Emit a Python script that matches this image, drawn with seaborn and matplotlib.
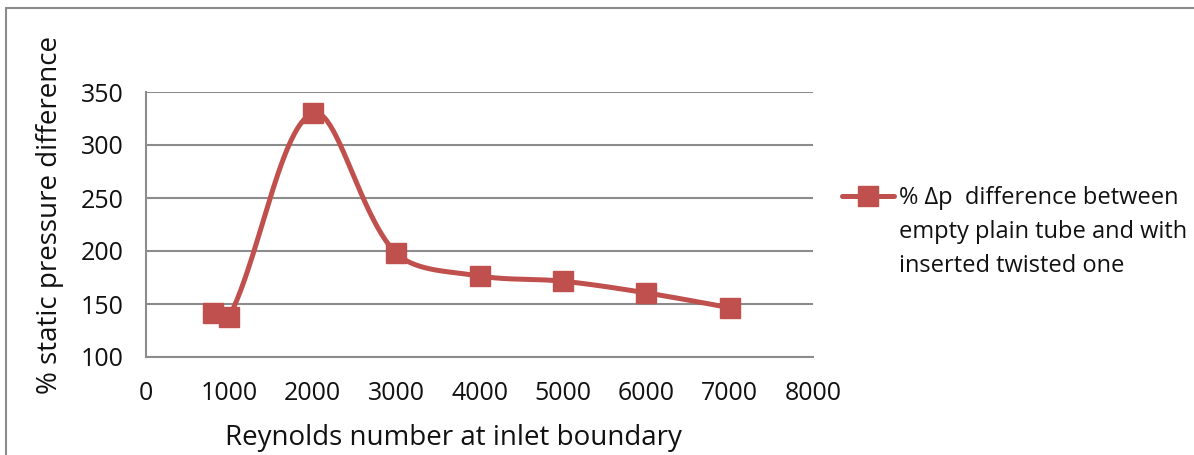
import numpy as np
import pandas as pd
import matplotlib
matplotlib.use("Agg")
import matplotlib.pyplot as plt
import seaborn as sns
from matplotlib.lines import Line2D

reynolds = [800, 1000, 2000, 3000, 4000, 5000, 6000, 7000]
dp_percent = [141.5, 138, 330, 198, 176.5, 171.5, 160.5, 146.5]
x_ticks = [0, 1000, 2000, 3000, 4000, 5000, 6000, 7000, 8000]
y_ticks = [100, 150, 200, 250, 300, 350]
series_label_lines = ["% \u0394p  difference between", "empty plain tube and with", "inserted twisted one"]
x_label = "Reynolds number at inlet boundary"
y_label = "% static pressure difference"

RED = "#C0504D"
GRID = "#8C8C8C"
TXT = "#111111"

sns.set_style("white")
plt.rcParams["font.family"] = ["Open Sans", "DejaVu Sans"]

fig = plt.figure(figsize=(11.94, 4.55), dpi=100)
ax = fig.add_axes([146 / 1194, 1 - 357 / 455, (813 - 146) / 1194, (357 - 92) / 455])
ax.set_xlim(0, 8000)
ax.set_ylim(100, 350)

# Smoothed line (Bezier with length-weighted tangents, like a spreadsheet smoothed line)
df = pd.DataFrame({"x": reynolds, "y": dp_percent})
P = df[["x", "y"]].to_numpy(dtype=float)
scale = np.array([667 / 8000, 265 / 250])  # data -> approx pixel scaling for distances
n = len(P)
tang = np.zeros_like(P)
for i in range(n):
    a = P[max(i - 1, 0)]
    b = P[min(i + 1, n - 1)]
    tang[i] = b - a
dist = np.linalg.norm((P[1:] - P[:-1]) * scale, axis=1)
curve = []
for i in range(n - 1):
    p1, p2 = P[i], P[i + 1]
    d12 = dist[i]
    d01 = dist[i - 1] if i > 0 else d12
    d23 = dist[i + 1] if i + 1 < n - 1 else d12
    k1 = d12 / (d01 + d12) / 3.0 if i > 0 else 0.0
    k2 = d12 / (d12 + d23) / 3.0 if i + 1 < n - 1 else 0.0
    c1 = p1 + tang[i] * k1
    c2 = p2 - tang[i + 1] * k2
    t = np.linspace(0, 1, 50)[:, None]
    seg = ((1 - t) ** 3) * p1 + 3 * ((1 - t) ** 2) * t * c1 + 3 * (1 - t) * t ** 2 * c2 + t ** 3 * p2
    curve.append(seg if i == 0 else seg[1:])
curve = np.vstack(curve)
smooth = pd.DataFrame({"x": curve[:, 0], "y": curve[:, 1]})

sns.lineplot(data=smooth, x="x", y="y", ax=ax, color=RED, lw=3.6, sort=False,
             estimator=None, zorder=3, solid_capstyle="round")
ax.plot(df["x"], df["y"], ls="none", marker="s", ms=14, color=RED, mec=RED, zorder=4)

# legend
handle = Line2D([], [], color=RED, lw=3.6, marker="s", ms=14, solid_capstyle="round")
blank = Line2D([], [], color="none", lw=0)
leg = fig.legend([handle, blank, blank], series_label_lines, loc="upper left",
                 bbox_to_anchor=(842 / 1194, 1 - 186 / 455), frameon=False,
                 fontsize=17, handlelength=2.2, handletextpad=0.2,
                 labelspacing=0.42, borderpad=0, borderaxespad=0)
for t in leg.get_texts():
    t.set_color(TXT)

ax.set_xticks(x_ticks)
ax.set_yticks(y_ticks)
ax.set_xticklabels([str(v) for v in x_ticks])
ax.set_yticklabels([str(v) for v in y_ticks])
ax.tick_params(axis="both", labelsize=18, colors=TXT, length=6, width=1.5, direction="out")
ax.tick_params(axis="x", color=GRID, pad=11)
ax.tick_params(axis="y", color=GRID, pad=10)
ax.yaxis.grid(True, color=GRID, lw=1.5)
ax.xaxis.grid(False)
for s in ["top", "right"]:
    ax.spines[s].set_visible(False)
for s in ["left", "bottom"]:
    ax.spines[s].set_color(GRID)
    ax.spines[s].set_linewidth(1.5)
ax.set_xlabel(x_label, fontsize=20, color=TXT, labelpad=13)
ax.set_ylabel(y_label, fontsize=20, color=TXT, labelpad=12)
ax.xaxis.label.set_x((453.5 - 146) / 667)
ax.yaxis.label.set_y((357 - 215) / 265)

# outer chart border (left and top visible)
fig.add_artist(Line2D([5.5 / 1194, 5.5 / 1194], [0, 1 - 8 / 455], transform=fig.transFigure,
                      color=GRID, lw=1.5))
fig.add_artist(Line2D([5.5 / 1194, 1], [1 - 8 / 455, 1 - 8 / 455], transform=fig.transFigure,
                      color=GRID, lw=1.5))

fig.savefig("out.png", dpi=100)
